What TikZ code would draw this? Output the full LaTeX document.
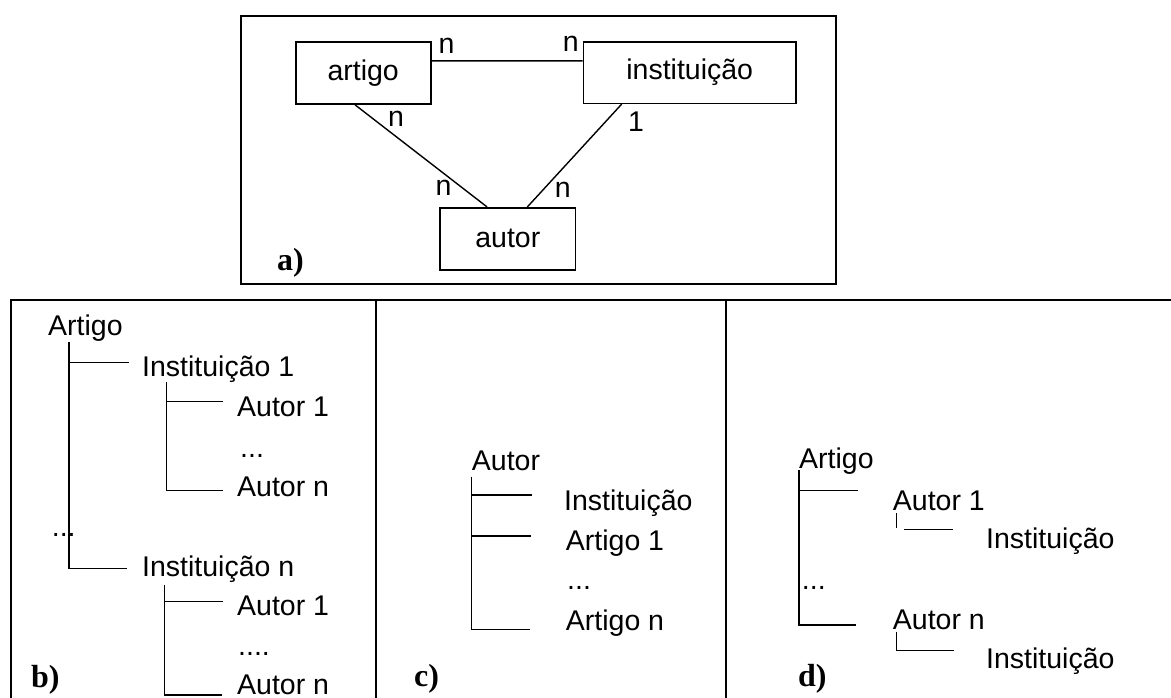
\documentclass[tikz,border=0pt]{standalone}
\usepackage{fontspec}
\setmainfont{Liberation Sans}
\newfontfamily\lblfont{Liberation Serif}
\begin{document}
\begin{tikzpicture}[x=1pt,y=-1pt,
  txt/.style={inner sep=0pt, anchor=base west, font=\fontsize{28.5}{34}\selectfont},
  ent/.style={draw, line width=1.6pt, inner sep=0pt, font=\fontsize{28.5}{34}\selectfont},
  card/.style={inner sep=0pt, font=\fontsize{28.5}{34}\selectfont},
  lbl/.style={inner sep=0pt, anchor=base west, font=\lblfont\bfseries\fontsize{32}{36}\selectfont},
  conn/.style={line width=1.4pt},
  tree/.style={line width=1.4pt},
  frame/.style={line width=2.3pt}]
\useasboundingbox (0,0) rectangle (1171,697);

% ---------- a) ----------
\draw[frame] (241,15.7) rectangle (836,284.3);
\node[ent, minimum width=135pt, minimum height=62.3pt] (artigo) at (363.2,72.85) {artigo};
\node[ent, minimum width=212.7pt, minimum height=61.6pt] (inst) at (689.7,72.5) {instituição};
\node[ent, minimum width=135.6pt, minimum height=62.3pt] (autor) at (507.8,238.85) {autor};

\draw[conn] ([yshift=-20pt]artigo.north east) -- ([yshift=-20pt]inst.north west);
\draw[conn] ([xshift=-8.2pt]artigo.south) -- ([xshift=-20.8pt]autor.north);
\draw[conn] ([xshift=-68pt]inst.south) -- ([xshift=19.6pt]autor.north);

\node[card] (c1) at (446.5,46) {n};
\node[card] (c2) at (570.7,44) {n};
\node[card] (c3) at (396,118.5) {n};
\node[card] (c4) at (636,122) {1};
\node[card] (c5) at (443.6,188) {n};
\node[card] (c6) at (562.7,190) {n};
\node[lbl] (la) at (277,270) {a)};

% ---------- bottom frame ----------
\draw[frame] (11,700) -- (11,300) -- (1175,300);
\draw[frame] (376,300) -- (376,700);
\draw[frame] (726,300) -- (726,700);

% ---------- b) ----------
\node[txt] (bArt) at (48,335) {Artigo};
\node[txt] (bI1) at (142,376.7) {Instituição 1};
\node[txt] (bA11) at (237,416.7) {Autor 1};
\node[txt] (bd1) at (240,457) {...};
\node[txt] (bA1n) at (237,496) {Autor n};
\node[txt] (bd0) at (51.7,536) {...};
\node[txt] (bIn) at (142,576) {Instituição n};
\node[txt] (bAn1) at (237,615) {Autor 1};
\node[txt] (bd2) at (238,655) {....};
\node[txt] (bAnn) at (237,694) {Autor n};
\node[lbl] (lb) at (31,687) {b)};

\draw[tree] (69,341.7) -- (69,568.3) -- (126.7,568.3);
\draw[tree] (69,362.7) -- (129.3,362.7);
\draw[tree] (166.7,381.7) -- (166.7,490.7) -- (223.3,490.7);
\draw[tree] (166.7,401.7) -- (223.3,401.7);
\draw[tree] (164.3,585) -- (164.3,695) -- (222,695);
\draw[tree] (164.3,601.7) -- (222.7,601.7);

% ---------- c) ----------
\node[txt] (cAut) at (471.7,470) {Autor};
\node[txt] (cInst) at (564,510) {Instituição};
\node[txt] (cA1) at (565.7,550) {Artigo 1};
\node[txt] (cd) at (567,589) {...};
\node[txt] (cAn) at (565.7,630) {Artigo n};
\node[lbl] (lc) at (414,686) {c)};

\draw[tree] (471.7,476.7) -- (471.7,629.3) -- (530,629.3);
\draw[tree] (471.7,495) -- (532.3,495);
\draw[tree] (471.7,536) -- (530.7,536);

% ---------- d) ----------
\node[txt] (dArt) at (799,468.3) {Artigo};
\node[txt] (dA1) at (892.7,510) {Autor 1};
\node[txt] (dI1) at (986,548.3) {Instituição};
\node[txt] (dd) at (801.7,589) {...};
\node[txt] (dAn) at (892.7,629.3) {Autor n};
\node[txt] (dIn) at (986,668.3) {Instituição};
\node[lbl] (ld) at (798,686) {d)};

\draw[tree] (799,470) -- (799,625) -- (856,625);
\draw[tree] (799,490.7) -- (858.3,490.7);
\draw[tree] (896.7,513) -- (896.7,528.3);
\draw[tree] (904,529.3) -- (953.3,529.3);
\draw[tree] (896.7,631.7) -- (896.7,650.7) -- (954.3,650.7);
\end{tikzpicture}
\end{document}
